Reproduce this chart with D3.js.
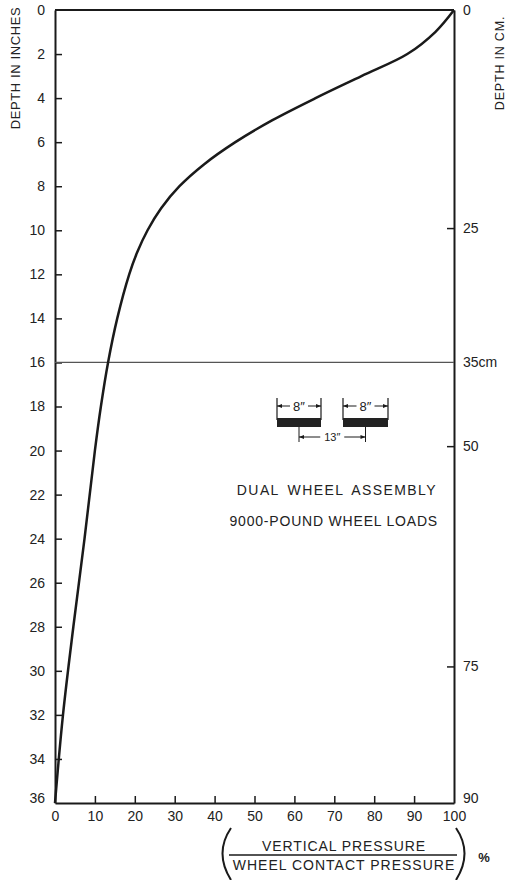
<!DOCTYPE html>
<html>
<head>
<meta charset="utf-8">
<script src="https://cdn.jsdelivr.net/npm/d3@7"></script>
<style>
  html, body { margin: 0; padding: 0; background: #fff; }
  svg { display: block; }
  text { font-family: "Liberation Sans", Arial, sans-serif; fill: #222; }
</style>
</head>
<body>
<svg id="chart" width="506" height="880"></svg>
<script>
// ---- data ----
const depthIn = [0, 1, 2, 3, 4, 5, 6, 7, 8, 9, 10, 11, 12, 14, 16, 18, 20, 24, 28, 32, 36];
const pressurePct = [100, 95.3, 88.3, 76.8, 65.3, 54.5, 45.2, 37.4, 31.2, 26.6, 23.2, 20.6, 18.6, 15.6, 13.3, 11.5, 10.0, 7.4, 4.6, 2.0, 0];
const leftTicks = [0, 2, 4, 6, 8, 10, 12, 14, 16, 18, 20, 22, 24, 26, 28, 30, 32, 34, 36];
const bottomTicks = [0, 10, 20, 30, 40, 50, 60, 70, 80, 90, 100];
const rightTickPos = [0, 9.9, 16, 19.8, 29.8, 36];
const rightTickLabels = ["0", "25", "35cm", "50", "75", "90"];
const refDepth = 16;

const svg = d3.select("#chart");
const x = d3.scaleLinear().domain([0, 100]).range([55, 454]);
const y = d3.scaleLinear().domain([0, 36]).range([10, 803]);

const ink = "#1a1a1a";

// frame top
svg.append("line").attr("x1", x(0)).attr("x2", x(100)).attr("y1", y(0)).attr("y2", y(0))
  .attr("stroke", ink).attr("stroke-width", 2);

// axes
const gl = svg.append("g").attr("transform", `translate(${x(0)},0)`)
  .call(d3.axisLeft(y).tickValues(leftTicks).tickSize(-7).tickSizeOuter(0).tickPadding(10).tickFormat(d3.format("d")));
const gb = svg.append("g").attr("transform", `translate(0,${y(36)})`)
  .call(d3.axisBottom(x).tickValues(bottomTicks).tickSize(-7).tickSizeOuter(0).tickPadding(8).tickFormat(d3.format("d")));
const gr = svg.append("g").attr("transform", `translate(${x(100)},0)`)
  .call(d3.axisRight(y).tickValues(rightTickPos).tickSize(-7).tickSizeOuter(0).tickPadding(9)
    .tickFormat((d, i) => rightTickLabels[i]));

[gl, gb, gr].forEach(g => {
  g.select(".domain").attr("stroke", ink).attr("stroke-width", 2);
  g.selectAll(".tick line").attr("stroke", ink).attr("stroke-width", 1.5);
  g.selectAll(".tick text").attr("font-size", 14).attr("fill", "#222")
    .attr("font-family", "'Liberation Sans', Arial, sans-serif");
});
gl.selectAll(".tick").filter(d => d === 0 || d === 36).select("line").remove();
gb.selectAll(".tick").filter(d => d === 0 || d === 100).select("line").remove();
gr.selectAll(".tick").filter(d => d === 0 || d === 16 || d === 36).select("line").remove();
gl.selectAll(".tick").filter(d => d === 36).select("text").attr("dy", "-0.05em");
gr.selectAll(".tick").filter(d => d === 36).select("text").attr("dy", "-0.05em");

// reference horizontal line at 16 in
svg.append("line").attr("x1", x(0)).attr("x2", x(100)).attr("y1", y(refDepth)).attr("y2", y(refDepth))
  .attr("stroke", "#555").attr("stroke-width", 1.2);

// curve
const pts = depthIn.map((d, i) => [pressurePct[i], d]);
svg.append("path").datum(pts)
  .attr("fill", "none").attr("stroke", ink).attr("stroke-width", 2.5)
  .attr("d", d3.line().x(d => x(d[0])).y(d => y(d[1])).curve(d3.curveCatmullRom.alpha(0.5)));

// axis titles
svg.append("text").attr("transform", `translate(20,68) rotate(-90)`)
  .attr("text-anchor", "middle").attr("font-size", 13).attr("letter-spacing", 0.6)
  .text("DEPTH IN INCHES");
svg.append("text").attr("transform", `translate(504,63) rotate(-90)`)
  .attr("text-anchor", "middle").attr("font-size", 12.5).attr("letter-spacing", 0.8)
  .text("DEPTH IN CM.");

// bottom fraction label
const fx = 344;
svg.append("text").attr("x", fx).attr("y", 851).attr("text-anchor", "middle")
  .attr("font-size", 14).attr("letter-spacing", 0.9).text("VERTICAL  PRESSURE");
svg.append("line").attr("x1", 229).attr("x2", 457).attr("y1", 855).attr("y2", 855)
  .attr("stroke", ink).attr("stroke-width", 1.5);
svg.append("text").attr("x", fx).attr("y", 870).attr("text-anchor", "middle")
  .attr("font-size", 14).attr("letter-spacing", 1.0).text("WHEEL CONTACT PRESSURE");
svg.append("path").attr("d", "M231,828 Q214,853 231,880").attr("fill", "none").attr("stroke", ink).attr("stroke-width", 2);
svg.append("path").attr("d", "M456,828 Q473,853 456,880").attr("fill", "none").attr("stroke", ink).attr("stroke-width", 2);
svg.append("text").attr("x", 484).attr("y", 862).attr("text-anchor", "middle")
  .attr("font-size", 13).attr("font-weight", "bold").text("%");

// annotation text
svg.append("text").attr("x", 437).attr("y", 495).attr("text-anchor", "end")
  .attr("font-size", 14).attr("letter-spacing", 1.4).attr("word-spacing", 3).text("DUAL WHEEL ASSEMBLY");
svg.append("text").attr("x", 438).attr("y", 526).attr("text-anchor", "end")
  .attr("font-size", 14).attr("letter-spacing", 0.8).text("9000-POUND WHEEL LOADS");

// wheel diagram
const wd = svg.append("g");
const wheels = [[277, 321], [343, 388]];
function arrow(g, xa, xb, yy) {
  g.append("line").attr("x1", xa).attr("x2", xb).attr("y1", yy).attr("y2", yy).attr("stroke", ink).attr("stroke-width", 1);
  const dir = xb > xa ? 1 : -1;
  g.append("path").attr("d", `M${xa},${yy} L${xa + dir * 5},${yy - 2} L${xa + dir * 5},${yy + 2} Z`).attr("fill", ink);
}
wheels.forEach(([a, b]) => {
  const c = (a + b) / 2;
  wd.append("line").attr("x1", a).attr("x2", a).attr("y1", 398).attr("y2", 420).attr("stroke", ink).attr("stroke-width", 1.2);
  wd.append("line").attr("x1", b).attr("x2", b).attr("y1", 398).attr("y2", 420).attr("stroke", ink).attr("stroke-width", 1.2);
  wd.append("rect").attr("x", a).attr("y", 418).attr("width", b - a).attr("height", 9).attr("fill", "#222");
  wd.append("text").attr("x", c).attr("y", 411).attr("text-anchor", "middle").attr("font-size", 13).text("8\u2033");
  arrow(wd, a, c - 9, 406);
  arrow(wd, b, c + 9, 406);
  wd.append("line").attr("x1", c).attr("x2", c).attr("y1", 427).attr("y2", 442).attr("stroke", ink).attr("stroke-width", 1);
});
const c1 = (wheels[0][0] + wheels[0][1]) / 2, c2 = (wheels[1][0] + wheels[1][1]) / 2, cm = (c1 + c2) / 2;
arrow(wd, c1, cm - 12, 437);
arrow(wd, c2, cm + 12, 437);
wd.append("text").attr("x", cm).attr("y", 441).attr("text-anchor", "middle").attr("font-size", 11).text("13\u2033");
</script>
</body>
</html>
